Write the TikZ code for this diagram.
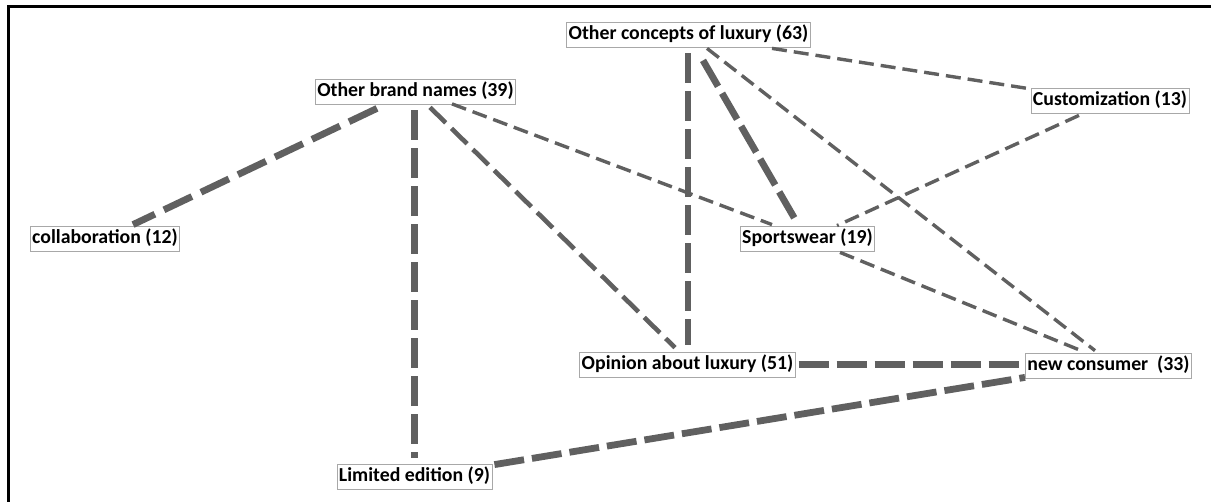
\documentclass[tikz,border=0pt]{standalone}
\usepackage{fontspec}
\setmainfont{Carlito}
\definecolor{linkgray}{HTML}{606060}
\definecolor{boxgray}{HTML}{A8A8A8}
\tikzset{
  concept/.style={draw=boxgray, line width=0.8pt, fill=white, inner xsep=2pt,
    inner ysep=0pt, minimum height=25pt, text height=14pt, text depth=4.5pt,
    font=\fontsize{19.8}{24}\selectfont\bfseries},
  link/.style={draw=linkgray, line cap=butt},
  thinlink/.style={link, line width=3.4pt, dash pattern=on 15pt off 7pt},
  midlink/.style={link, line width=4.6pt, dash pattern=on 22pt off 8pt},
  heavylink/.style={link, line width=6.8pt, dash pattern=on 30pt off 8pt},
}
\begin{document}
\begin{tikzpicture}[x=1pt, y=-1pt]
  \useasboundingbox (0,0) rectangle (1211,502);
  % frame along the top and left
  \draw[line width=3pt, line cap=butt, line join=miter] (8.5,502) -- (8.5,6.5) -- (1211,6.5);

  % concepts
  \node[concept] (OC) at (688.5,35)    {Other concepts of luxury (63)};
  \node[concept] (OB) at (415.5,91.5)  {Other brand names (39)};
  \node[concept] (Cu) at (1110,101)    {Customization (13)};
  \node[concept] (Co) at (105,239)     {collaboration (12)};
  \node[concept] (Sp) at (807.5,239)   {Sportswear (19)};
  \node[concept] (Op) at (687.5,364.5) {Opinion about luxury (51)};
  \node[concept] (NC) at (1108.5,366)  {new consumer~~(33)};
  \node[concept] (LE) at (414.5,476.5) {Limited edition (9)};

  % co-occurrence links
  \draw[heavylink, dash pattern=on 31pt off 10pt]
        ([shift={(-38.5,4)}]OB.south) -- ([shift={(28,-1.5)}]Co.north);
  \draw[heavylink, line width=6.2pt]
        ([shift={(-1,6)}]OB.south) -- ([shift={(0,-6)}]LE.north);
  \draw[midlink]
        ([shift={(14.5,3)}]OB.south) -- ([shift={(-12.5,-4)}]Op.north);
  \draw[thinlink]
        ([shift={(36.5,-0.5)}]OB.south) -- ([shift={(-35.5,-1.5)}]Sp.north);
  \draw[heavylink]
        ([shift={(-0.5,5.5)}]OC.south) -- ([shift={(0.5,-7)}]Op.north);
  \draw[heavylink]
        ([shift={(14.5,12.5)}]OC.south) -- ([shift={(-10.5,-3.5)}]Sp.north);
  \draw[thinlink]
        ([shift={(18.5,0.5)}]OC.south) -- ([shift={(-13.5,-2.5)}]NC.north);
  \draw[thinlink]
        ([shift={(83.5,0.5)}]OC.south) -- ([shift={(-2,0.5)}]Cu.north west);
  \draw[thinlink]
        ([shift={(-31,1.5)}]Cu.south) -- ([shift={(29.5,-0.5)}]Sp.north);
  \draw[thinlink]
        ([shift={(32.5,0.5)}]Sp.south) -- ([shift={(-27.5,-2.5)}]NC.north);
  \draw[heavylink, line width=7.6pt]
        ([shift={(3,0)}]Op.east) -- ([shift={(-2,-1.5)}]NC.west);
  \draw[heavylink]
        ([shift={(2,1)}]LE.north east) -- ([shift={(0,-1.5)}]NC.south west);
\end{tikzpicture}
\end{document}
